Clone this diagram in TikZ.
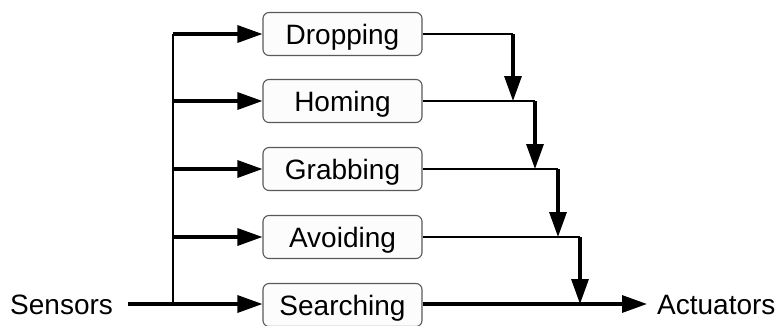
\documentclass[tikz,border=0pt]{standalone}
\usepackage{fontspec}
\setmainfont{Liberation Sans}
\usetikzlibrary{arrows.meta}

\tikzset{
  behaviour/.style={draw=black!65, line width=1.1pt, fill=black!1, rounded corners=6pt,
    minimum width=159pt, minimum height=43pt, inner sep=0pt,
    font=\fontsize{28}{30}\selectfont, text height=20pt, text depth=0pt},
  endlabel/.style={inner sep=0pt, font=\fontsize{28}{30}\selectfont,
    text height=20pt, text depth=0pt},
  feed/.style={line width=3.2pt, -{Triangle[length=25pt,width=17pt]}},
  busline/.style={line width=2.2pt},
  outline/.style={line width=2.2pt},
}

\begin{document}
\begin{tikzpicture}[x=1pt,y=-1pt]
  \useasboundingbox (0,0) rectangle (780,325);

  % behaviour boxes
  \node[behaviour] (drop) at (342.5,34)  {Dropping};
  \node[behaviour] (hom)  at (342.5,101) {Homing};
  \node[behaviour] (grab) at (342.5,169) {Grabbing};
  \node[behaviour] (avoid) at (342.5,237) {Avoiding};
  \node[behaviour] (srch) at (342.5,305) {Searching};

  % input and output labels
  \node[endlabel, anchor=west] (sens) at (10,304) {Sensors};
  \node[endlabel, anchor=west] (act)  at (657,304) {Actuators};

  % sensor bus
  \coordinate (j)   at (173,304);
  \coordinate (top) at (173,34);
  \draw[line width=3.2pt] ([xshift=15pt]sens.east) -- (j);
  \draw[busline] (j) -- (top);
  \draw[feed] (top) -- (drop.west);
  \draw[feed] (j |- hom.west) -- (hom.west);
  \draw[feed] (j |- grab.west) -- (grab.west);
  \draw[feed] (j |- avoid.west) -- (avoid.west);
  \draw[feed] (j) -- (srch.west |- j);

  % suppression chain on the output side
  \coordinate (c1) at (513,34);
  \coordinate (c2) at (535,101);
  \coordinate (c3) at (558,169);
  \coordinate (c4) at (580,237);
  \draw[outline] (drop.east) -- (c1);
  \draw[feed] (c1) -- (c1 |- hom.east);
  \draw[outline] (hom.east) -- (c2);
  \draw[feed] (c2) -- (c2 |- grab.east);
  \draw[outline] (grab.east) -- (c3);
  \draw[feed] (c3) -- (c3 |- avoid.east);
  \draw[outline] (avoid.east) -- (c4);
  \draw[feed] (c4) -- (c4 |- j);
  \draw[feed] (srch.east |- j) -- ([xshift=-10pt]act.west);
\end{tikzpicture}
\end{document}
